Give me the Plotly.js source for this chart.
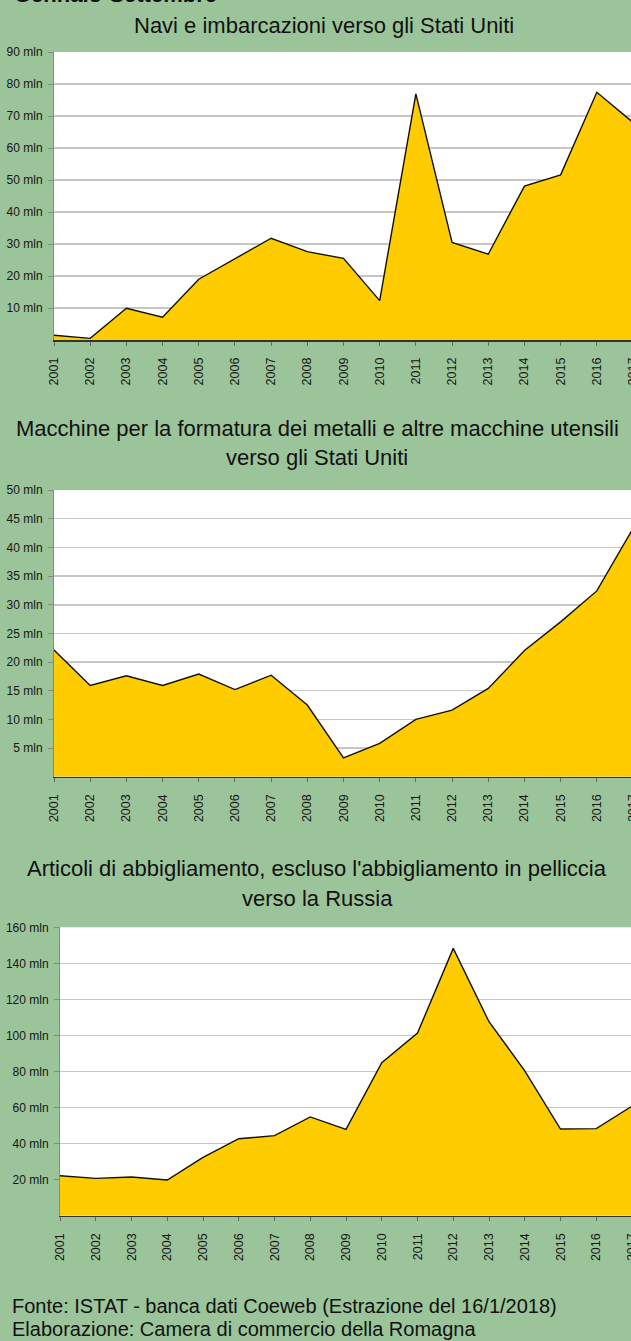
<!DOCTYPE html>
<html>
<head>
<meta charset="utf-8">
<script src="https://cdn.plot.ly/plotly-3.0.1.min.js"></script>
<style>
  html, body { margin: 0; padding: 0; background: #9CC49A; overflow: hidden; }
  #wrap { width: 631px; height: 1341px; overflow: hidden; position: relative; }
  #chart { width: 700px; height: 1341px; }
</style>
</head>
<body>
<div id="wrap"><div id="chart"></div></div>
<script>
// ---- data (values in millions of euro) ----
const years = [2001, 2002, 2003, 2004, 2005, 2006, 2007, 2008, 2009, 2010, 2011, 2012, 2013, 2014, 2015, 2016, 2017];
const yearLabels = ["2001", "2002", "2003", "2004", "2005", "2006", "2007", "2008", "2009", "2010", "2011", "2012", "2013", "2014", "2015", "2016", "2017"];

const naviUSA = [1.5, 0.5, 9.9, 7.1, 19.0, 25.4, 31.8, 27.6, 25.5, 12.3, 76.9, 30.5, 26.8, 48.1, 51.6, 77.4, 68.0];
const macchineUSA = [22.1, 15.9, 17.6, 15.9, 17.9, 15.2, 17.7, 12.5, 3.3, 5.8, 10.0, 11.6, 15.4, 22.0, 27.0, 32.4, 43.3];
const abbigliamentoRussia = [22.2, 20.7, 21.5, 19.8, 32.4, 42.7, 44.4, 54.8, 47.9, 84.9, 101.3, 148.3, 107.6, 80.4, 48.1, 48.3, 60.8];

const ticks1 = [10, 20, 30, 40, 50, 60, 70, 80, 90];
const ticks2 = [5, 10, 15, 20, 25, 30, 35, 40, 45, 50];
const ticks3 = [20, 40, 60, 80, 100, 120, 140, 160];

const title0 = "Gennaio-Settembre";
const title1 = ["Navi e imbarcazioni verso gli Stati Uniti"];
const title2 = ["Macchine per la formatura dei metalli e altre macchine utensili", "verso gli Stati Uniti"];
const title3 = ["Articoli di abbigliamento, escluso l'abbigliamento in pelliccia", "verso la Russia"];
const footer = ["Fonte: ISTAT - banca dati Coeweb (Estrazione del 16/1/2018)", "Elaborazione: Camera di commercio della Romagna"];

// ---- layout helpers (pixel -> paper) ----
const W = 700, H = 1341;
const px = p => p / W;
const py = p => 1 - p / H;
const FONT = "Liberation Sans, Arial, sans-serif";
const lbl = v => v.map(t => t + " mln");

function xAxis(l, r, anchor) {
  return {
    domain: [px(l), px(r)], range: [2001, 2017], anchor: anchor,
    tickvals: years, ticktext: yearLabels, tickangle: -90,
    ticks: "outside", ticklen: 4, tickcolor: "#666", tickwidth: 1,
    ticklabelstandoff: 7,
    showline: true, linecolor: "#333", linewidth: 1.6,
    showgrid: false, zeroline: false,
    tickfont: { family: FONT, size: 12.5, color: "#151515" }
  };
}
function yAxis(t, b, maxV, tv, anchor) {
  return {
    domain: [py(b), py(t)], range: [0, maxV], anchor: anchor,
    tickvals: tv, ticktext: lbl(tv),
    ticks: "outside", ticklen: 5, tickcolor: "#888", tickwidth: 1,
    ticklabelstandoff: 3,
    showline: true, linecolor: "#888", linewidth: 1,
    showgrid: true, gridcolor: "#c6c6c6", gridwidth: 1.2,
    zeroline: false,
    tickfont: { family: FONT, size: 12, color: "#151515" }
  };
}
function area(y, xa, ya) {
  return {
    type: "scatter", mode: "lines", x: years, y: y, xaxis: xa, yaxis: ya,
    fill: "tozeroy", fillcolor: "#FFCC00",
    line: { color: "#111", width: 1.4 }, hoverinfo: "skip", showlegend: false
  };
}

const data = [
  area(naviUSA, "x", "y"),
  area(macchineUSA, "x2", "y2"),
  area(abbigliamentoRussia, "x3", "y3")
];

function ann(text, xp, yp, size, anchorX) {
  return {
    text: text,
    xref: "paper", yref: "paper", x: px(xp), y: py(yp),
    xanchor: anchorX, yanchor: "middle", showarrow: false,
    font: { family: FONT, size: size, color: "#111" }
  };
}

const annotations = [
  { text: "<b>" + title0 + "</b>", xref: "paper", yref: "paper", x: px(12), y: py(9),
    xanchor: "left", yanchor: "bottom", showarrow: false,
    font: { family: FONT, size: 22, color: "#111" } },
  ann(title1[0], 324, 25, 22, "center"),
  ann(title2[0], 317, 428, 22, "center"),
  ann(title2[1], 317, 458, 22, "center"),
  ann(title3[0], 317, 868, 22, "center"),
  ann(title3[1], 317, 898, 22, "center"),
  ann(footer[0], 10, 1306, 20, "left"),
  ann(footer[1], 10, 1329, 20, "left")
];

const layout = {
  width: W, height: H,
  margin: { l: 0, r: 0, t: 0, b: 0, pad: 0 },
  paper_bgcolor: "#9CC49A", plot_bgcolor: "#FFFFFF",
  font: { family: FONT, color: "#111" },
  showlegend: false,
  xaxis: xAxis(54, 633, "y"),
  yaxis: yAxis(52, 340, 90, ticks1, "x"),
  xaxis2: xAxis(54, 633, "y2"),
  yaxis2: yAxis(490, 776.7, 50, ticks2, "x2"),
  xaxis3: xAxis(60, 632, "y3"),
  yaxis3: yAxis(927.3, 1215.7, 160, ticks3, "x3"),
  shapes: [
    { type: "line", xref: "x2 domain", yref: "y2", x0: 0, x1: 1, y0: 30, y1: 30,
      line: { color: "#222", width: 1.2 }, layer: "below" }
  ],
  annotations: annotations
};

Plotly.newPlot("chart", data, layout, { displayModeBar: false, staticPlot: true });
</script>
</body>
</html>
